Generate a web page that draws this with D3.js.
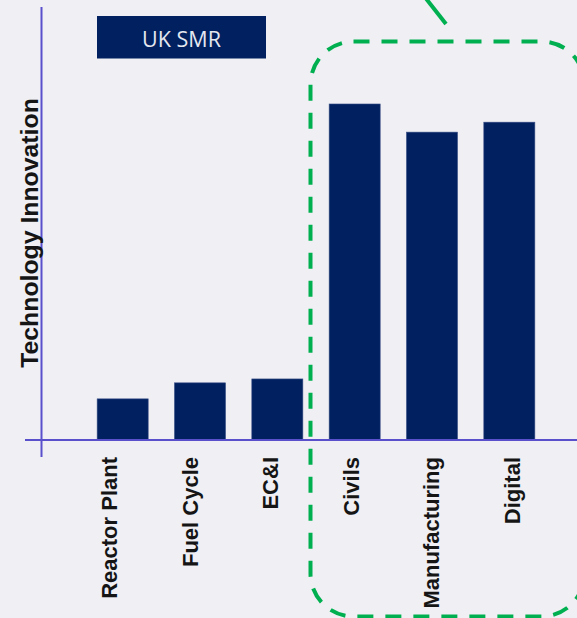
<!DOCTYPE html>
<html>
<head>
<meta charset="utf-8">
<script src="https://cdn.jsdelivr.net/npm/d3@7"></script>
<style>
  html, body { margin: 0; padding: 0; background: #efeff4; }
  svg { display: block; }
</style>
</head>
<body>
<script>
const categories = ["Reactor Plant", "Fuel Cycle", "EC&I", "Civils", "Manufacturing", "Digital"];
const values = [9.5, 13.2, 14.1, 77.6, 71.1, 73.4];
const yDomain = [0, 100];
const legendLabel = "UK SMR";
const yTitle = "Technology Innovation";

const W = 577, H = 618;
const svg = d3.select("body").append("svg").attr("width", W).attr("height", H);
svg.append("rect").attr("width", W).attr("height", H).attr("fill", "#efeff4");

const x = d3.scaleBand().domain(categories).range([84, 548]).paddingInner(0.34).paddingOuter(0.17);
const xl = d3.scalePoint().domain(categories).range([109, 512]);
const y = d3.scaleLinear().domain(yDomain).range([440, 7]);

const navy = "#002060";
const axisCol = "#5b50cc";

// bars
svg.append("g").selectAll("rect").data(categories).join("rect")
  .attr("x", d => x(d))
  .attr("y", (d, i) => y(values[i]))
  .attr("width", x.bandwidth())
  .attr("height", (d, i) => y(0) - y(values[i]))
  .attr("fill", navy)
  .attr("stroke", "#3a4f86").attr("stroke-width", 0.6);

// axes lines
svg.append("line").attr("x1", 25).attr("x2", W).attr("y1", y(0)).attr("y2", y(0))
  .attr("stroke", axisCol).attr("stroke-width", 2);
svg.append("line").attr("x1", 41.5).attr("x2", 41.5).attr("y1", y(yDomain[1])).attr("y2", 457)
  .attr("stroke", axisCol).attr("stroke-width", 2);

// category labels
svg.append("g").selectAll("text").data(categories).join("text")
  .attr("transform", d => `translate(${xl(d)},457) rotate(-90)`)
  .attr("text-anchor", "end")
  .attr("dy", "0.36em")
  .attr("font-family", "'Liberation Sans', Arial, sans-serif")
  .attr("font-weight", "bold")
  .attr("font-size", 22)
  .attr("fill", "#151515")
  .text(d => d);

// y title
svg.append("text")
  .attr("transform", "translate(29.5,233) rotate(-90)")
  .attr("text-anchor", "middle")
  .attr("dy", "0.36em")
  .attr("font-family", "'Liberation Sans', Arial, sans-serif")
  .attr("font-weight", "bold")
  .attr("font-size", 24.8)
  .attr("fill", "#151515")
  .text(yTitle);

// legend box
svg.append("rect").attr("x", 97).attr("y", 16).attr("width", 169).attr("height", 42.5)
  .attr("fill", navy);
svg.append("text").attr("x", 181.5).attr("y", 46.5).attr("text-anchor", "middle")
  .attr("font-family", "'Open Sans', 'Noto Sans', sans-serif")
  .attr("font-size", 21.5).attr("fill", "#e4e7f0")
  .text(legendLabel);

// green dashed highlight
const green = "#00b050";
svg.append("rect").attr("x", 310.5).attr("y", 41.5).attr("width", 274).attr("height", 575)
  .attr("rx", 43).attr("ry", 43)
  .attr("fill", "none").attr("stroke", green).attr("stroke-width", 4)
  .attr("stroke-dasharray", "16,12");
svg.append("line").attr("x1", 424).attr("y1", -4).attr("x2", 446).attr("y2", 24)
  .attr("stroke", green).attr("stroke-width", 4);
</script>
</body>
</html>
